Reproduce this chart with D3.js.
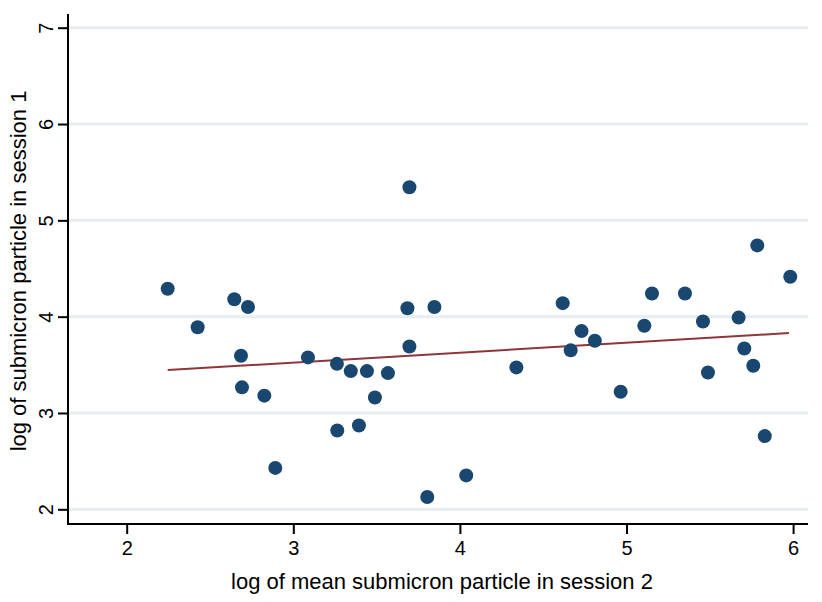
<!DOCTYPE html>
<html>
<head>
<meta charset="utf-8">
<script src="https://cdn.jsdelivr.net/npm/d3@7"></script>
<style>
  html, body { margin: 0; padding: 0; background: #ffffff; }
  svg { display: block; }
  text { font-family: "Liberation Sans", Arial, Helvetica, sans-serif; fill: #000; }
</style>
</head>
<body>
<div id="chart"></div>
<script>
// ---- data ----
const session2 = [2.246, 2.426, 2.646, 2.728, 2.686, 2.692, 2.826, 2.892, 3.088, 3.262,
                  3.345, 3.264, 3.394, 3.442, 3.490, 3.568, 3.697, 3.685, 3.697, 3.847,
                  3.804, 4.038, 4.339, 4.617, 4.665, 4.730, 4.810, 4.965, 5.107, 5.153,
                  5.351, 5.459, 5.489, 5.673, 5.707, 5.761, 5.785, 5.983, 5.830];
const session1 = [4.290, 3.890, 4.180, 4.100, 3.594, 3.266, 3.180, 2.430, 3.577, 3.510,
                  3.435, 2.818, 2.870, 3.435, 3.160, 3.414, 5.344, 4.087, 3.690, 4.100,
                  2.127, 2.352, 3.473, 4.140, 3.650, 3.850, 3.750, 3.220, 3.905, 4.240,
                  4.240, 3.950, 3.420, 3.990, 3.670, 3.490, 4.740, 4.415, 2.760];
const fitX = [2.246, 5.975];
const fitY = [3.445, 3.830];
const xTicks = [2, 3, 4, 5, 6];
const yTicks = [2, 3, 4, 5, 6, 7];
const xTitle = "log of mean submicron particle in session 2";
const yTitle = "log of submicron particle in session 1";

// ---- layout ----
const W = 822, H = 602;
const pLeft = 68, pRight = 808, pTop = 14, pBottom = 524;

const x = d3.scaleLinear().domain([2, 6]).range([126.7, 793.1]);
const y = d3.scaleLinear().domain([2, 7]).range([509.3, 27.7]);

const svg = d3.select("#chart").append("svg")
  .attr("width", W).attr("height", H);

svg.append("rect").attr("width", W).attr("height", H).attr("fill", "#ffffff");

// gridlines
svg.append("g").selectAll("line").data(yTicks).join("line")
  .attr("x1", pLeft + 1).attr("x2", pRight)
  .attr("y1", d => y(d)).attr("y2", d => y(d))
  .attr("stroke", "#e7eef1").attr("stroke-width", 3);

// fit line
const pts = fitX.map((v, i) => [v, fitY[i]]);
svg.append("path")
  .datum(pts)
  .attr("d", d3.line().x(d => x(d[0])).y(d => y(d[1])))
  .attr("fill", "none").attr("stroke", "#90353b").attr("stroke-width", 2);

// points
const data = session2.map((v, i) => ({ x: v, y: session1[i] }));
svg.append("g").selectAll("circle").data(data).join("circle")
  .attr("cx", d => x(d.x)).attr("cy", d => y(d.y)).attr("r", 7)
  .attr("fill", "#1a476f");

// y axis
const yAxis = d3.axisLeft(y).tickValues(yTicks).tickSize(10).tickSizeOuter(0).tickFormat(d3.format("d"));
const gy = svg.append("g").attr("transform", `translate(${pLeft},0)`).call(yAxis);
gy.select(".domain").remove();
gy.append("line").attr("x1", 0).attr("x2", 0).attr("y1", pTop).attr("y2", pBottom + 1)
  .attr("stroke", "#000").attr("stroke-width", 2);
gy.selectAll(".tick line").attr("stroke", "#000").attr("stroke-width", 2);
gy.selectAll(".tick text")
  .attr("x", null).attr("dy", null)
  .attr("transform", "translate(-15,0) rotate(-90)")
  .attr("text-anchor", "middle")
  .style("font-size", "20px")
  .style("font-family", "'Liberation Sans', Arial, sans-serif")
  .attr("fill", "#000");

// x axis
const xAxis = d3.axisBottom(x).tickValues(xTicks).tickSize(10).tickSizeOuter(0).tickFormat(d3.format("d"));
const gx = svg.append("g").attr("transform", `translate(0,${pBottom})`).call(xAxis);
gx.select(".domain").remove();
gx.append("line").attr("x1", pLeft - 1).attr("x2", pRight).attr("y1", 0).attr("y2", 0)
  .attr("stroke", "#000").attr("stroke-width", 2);
gx.selectAll(".tick line").attr("stroke", "#000").attr("stroke-width", 2);
gx.selectAll(".tick text")
  .attr("y", 31).attr("dy", null)
  .style("font-size", "20px")
  .style("font-family", "'Liberation Sans', Arial, sans-serif")
  .attr("fill", "#000");

// titles
svg.append("text")
  .attr("x", 442).attr("y", 589)
  .attr("text-anchor", "middle")
  .style("font-size", "22px")
  .text(xTitle);

svg.append("text")
  .attr("transform", `translate(26,${(pTop + pBottom) / 2 + 2}) rotate(-90)`)
  .attr("text-anchor", "middle")
  .style("font-size", "22px")
  .text(yTitle);
</script>
</body>
</html>
